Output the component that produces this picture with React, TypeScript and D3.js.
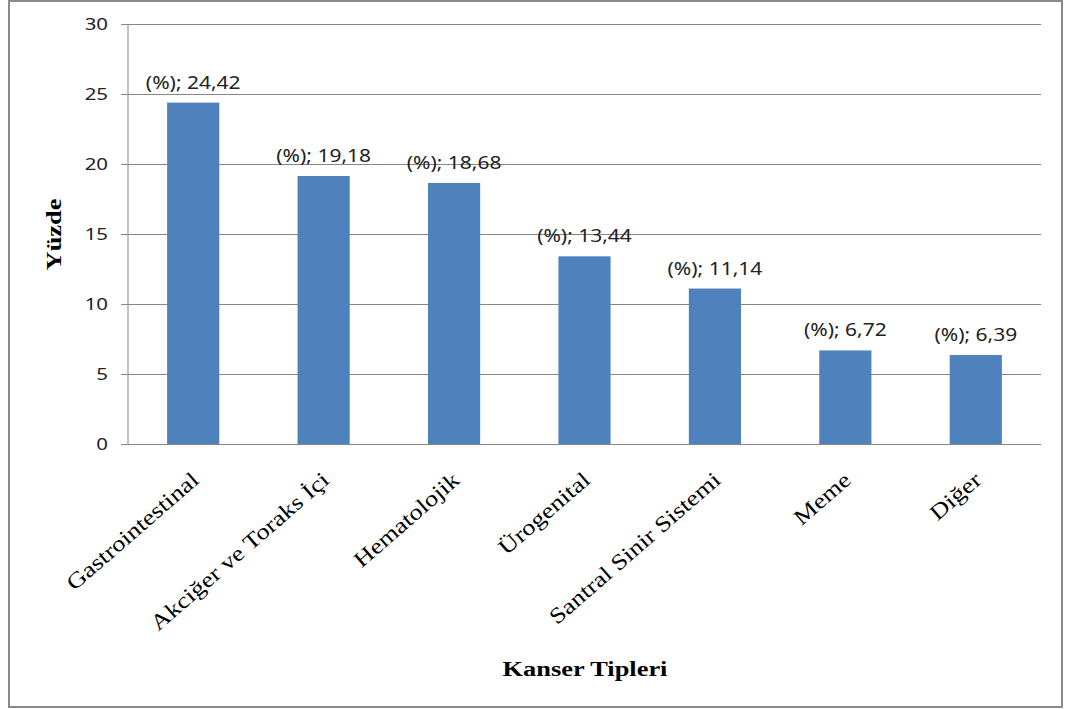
import React from "react";
import * as d3 from "d3";

const categories: string[] = [
  "Gastrointestinal",
  "Akciğer ve Toraks İçi",
  "Hematolojik",
  "Ürogenital",
  "Santral Sinir Sistemi",
  "Meme",
  "Diğer",
];
const values: number[] = [24.42, 19.18, 18.68, 13.44, 11.14, 6.72, 6.39];
const valueLabels: string[] = ["24,42", "19,18", "18,68", "13,44", "11,14", "6,72", "6,39"];
const yTicks: number[] = [0, 5, 10, 15, 20, 25, 30];
const yTitle = "Yüzde";
const xTitle = "Kanser Tipleri";

const W = 1066;
const H = 709;
const plot = { left: 128, right: 1041, top: 24.5, bottom: 444.5 };
const STRETCH = 1.2;
const BAR = "#4F81BD";
const GRID = "#868686";
const SANS = "'Noto Sans', 'Open Sans', sans-serif";
const SERIF = "'Liberation Serif', 'Times New Roman', serif";

export default function App() {
  const x = d3
    .scaleBand<string>()
    .domain(categories)
    .range([plot.left, plot.right])
    .paddingInner(0.6)
    .paddingOuter(0.3);
  const y = d3.scaleLinear().domain([0, 30]).range([plot.bottom, plot.top]);

  return (
    <svg
      width={W}
      height={H}
      style={{ position: "absolute", left: 0, top: 0, display: "block", background: "#fff" }}
    >
      <rect x={9} y={1} width={1053} height={706} fill="#fff" stroke="#8a8a8a" strokeWidth={2} />

      {/* gridlines and y ticks */}
      {yTicks.map((t) => (
        <g key={t}>
          <line x1={plot.left - 7} x2={plot.right} y1={y(t)} y2={y(t)} stroke={GRID} strokeWidth={1} />
          <text
            transform={`translate(108,${y(t) + 5.5}) scale(${STRETCH},1)`}
            textAnchor="end"
            fontFamily={SANS}
            fontSize={17}
            fill="#222"
          >
            {t}
          </text>
        </g>
      ))}
      <line x1={plot.left} x2={plot.left} y1={plot.top} y2={plot.bottom} stroke={GRID} strokeWidth={1} />

      {/* bars */}
      {categories.map((c, i) => (
        <rect
          key={c}
          x={x(c)!}
          y={y(values[i])}
          width={x.bandwidth()}
          height={y(0) - y(values[i])}
          fill={BAR}
        />
      ))}

      {/* axis baseline over bars */}
      <line x1={plot.left - 7} x2={plot.right} y1={y(0)} y2={y(0)} stroke={GRID} strokeWidth={1} />

      {/* value labels */}
      {categories.map((c, i) => (
        <text
          key={"v" + c}
          transform={`translate(${x(c)! + x.bandwidth() / 2},${y(values[i]) - 14}) scale(${STRETCH},1)`}
          textAnchor="middle"
          fontFamily={SANS}
          fontSize={17.5}
          fill="#222"
        >
          {`(%); ${valueLabels[i]}`}
        </text>
      ))}

      {/* category labels */}
      {categories.map((c) => (
        <text
          key={"c" + c}
          transform={`translate(${x(c)! + x.bandwidth() / 2 + 7},482) rotate(-41) scale(${STRETCH},1)`}
          textAnchor="end"
          fontFamily={SERIF}
          fontSize={22}
          fill="#000"
        >
          {c}
        </text>
      ))}

      {/* axis titles */}
      <text
        transform={`translate(61,${(plot.top + plot.bottom) / 2}) rotate(-90) scale(${STRETCH},1)`}
        textAnchor="middle"
        fontFamily={SERIF}
        fontWeight="bold"
        fontSize={22}
        fill="#000"
      >
        {yTitle}
      </text>
      <text
        transform={`translate(585,676) scale(${STRETCH},1)`}
        textAnchor="middle"
        fontFamily={SERIF}
        fontWeight="bold"
        fontSize={22}
        fill="#000"
      >
        {xTitle}
      </text>
    </svg>
  );
}
